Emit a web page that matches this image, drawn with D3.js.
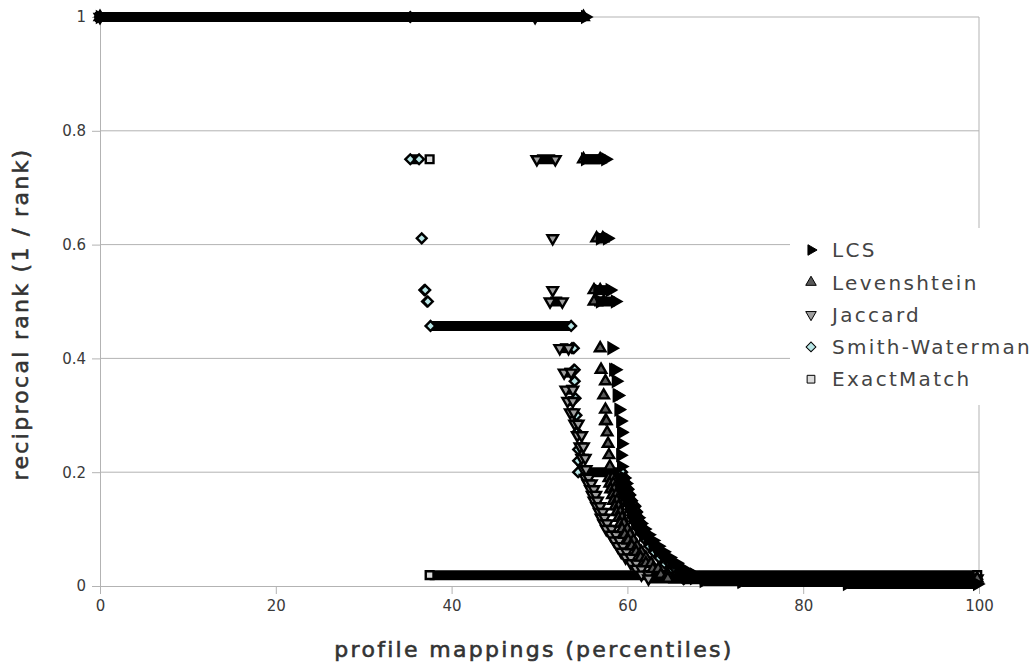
<!DOCTYPE html>
<html>
<head>
<meta charset="utf-8">
<script src="https://cdn.jsdelivr.net/npm/d3@7"></script>
<style>
  body { margin: 0; background: #fff; }
  svg { display: block; }
</style>
</head>
<body>
<svg id="chart" width="1036" height="664"></svg>
<script>
// each run is [percentile start, percentile end, reciprocal rank]
const lcsRuns = [
  [0, 55.2, 1], [55.2, 57.5, 0.75], [56.9, 57.7, 0.611], [56.6, 58.0, 0.52],
  [56.9, 58.6, 0.5], [58.2, 58.2, 0.418], [58.4, 58.6, 0.38], [58.7, 58.7, 0.36],
  [58.8, 58.9, 0.335], [59.0, 59.0, 0.31], [59.2, 59.2, 0.29], [59.3, 59.3, 0.27],
  [59.3, 59.3, 0.25], [59.2, 59.2, 0.23], [59.3, 59.3, 0.21],
  [59.2, 59.6, 0.19], [59.4, 59.8, 0.18], [59.5, 59.9, 0.17], [59.7, 60.1, 0.16],
  [59.9, 60.3, 0.15], [60.2, 60.6, 0.14], [60.4, 60.8, 0.13], [60.6, 61.2, 0.12],
  [60.9, 61.5, 0.11], [61.3, 61.9, 0.10], [61.8, 62.4, 0.09], [62.3, 62.9, 0.08],
  [62.9, 63.5, 0.07], [63.5, 64.1, 0.06], [64.2, 64.8, 0.05], [65.0, 65.6, 0.04],
  [65.8, 66.4, 0.03], [66.6, 67.6, 0.02], [67.6, 68.7, 0.014], [68.7, 73, 0.009],
  [73, 85, 0.007], [85, 99.8, 0.0035]
];
const levRuns = [
  [0, 55.0, 1], [55.0, 56.9, 0.75], [56.5, 57.2, 0.611], [56.2, 56.9, 0.52],
  [56.2, 57.3, 0.5], [56.9, 56.9, 0.418], [57.0, 57.0, 0.38], [57.5, 57.5, 0.36],
  [57.3, 57.3, 0.335], [57.5, 57.5, 0.31], [57.5, 57.6, 0.29], [57.7, 57.7, 0.27],
  [57.8, 57.8, 0.25], [57.9, 57.9, 0.23], [58.0, 58.0, 0.21],
  [57.9, 58.3, 0.19], [58.0, 58.4, 0.18], [58.1, 58.5, 0.17], [58.3, 58.7, 0.16],
  [58.4, 58.8, 0.15], [58.6, 59.0, 0.14], [58.8, 59.2, 0.13], [59.0, 59.4, 0.12],
  [59.2, 59.6, 0.11], [59.4, 60.0, 0.10], [59.7, 60.3, 0.09], [60.1, 60.7, 0.08],
  [60.5, 61.1, 0.07], [61.0, 61.6, 0.06], [61.5, 62.1, 0.05], [62.1, 62.7, 0.04],
  [62.9, 63.5, 0.03], [63.8, 64.6, 0.02], [64.6, 99.8, 0.013]
];
const jacRuns = [
  [0, 49.5, 1], [49.7, 51.8, 0.75], [51.5, 51.5, 0.611], [51.5, 51.5, 0.52],
  [51.2, 52.6, 0.5], [52.3, 53.3, 0.418], [52.8, 53.6, 0.375], [53.0, 53.8, 0.345],
  [53.2, 53.8, 0.325], [53.5, 53.9, 0.305], [54.0, 54.4, 0.285], [54.3, 54.8, 0.265],
  [54.6, 55.0, 0.245], [54.8, 55.2, 0.225], [55.0, 55.3, 0.205],
  [55.2, 55.6, 0.19], [55.5, 55.9, 0.18], [55.8, 56.2, 0.17], [56.0, 56.4, 0.16],
  [56.2, 56.6, 0.15], [56.5, 56.9, 0.14], [56.8, 57.2, 0.13], [57.0, 57.4, 0.12],
  [57.3, 57.7, 0.11], [57.6, 58.2, 0.10], [58.1, 58.7, 0.09], [58.5, 59.1, 0.08],
  [58.9, 59.5, 0.07], [59.3, 59.9, 0.06], [59.8, 60.4, 0.05], [60.4, 61.0, 0.04],
  [61.0, 61.6, 0.03], [61.6, 62.4, 0.02], [62.4, 99.8, 0.013]
];
const swRuns = [
  [0, 35.3, 1], [35.3, 36.3, 0.75], [36.6, 36.6, 0.611], [36.9, 37.0, 0.52],
  [37.2, 37.3, 0.5], [37.6, 53.6, 0.457], [53.7, 53.9, 0.418], [53.9, 54.0, 0.38],
  [54.0, 54.0, 0.36], [54.1, 54.1, 0.33], [54.2, 54.2, 0.3], [54.3, 54.3, 0.27],
  [54.4, 54.4, 0.24], [54.4, 54.4, 0.22], [54.4, 59.4, 0.2],
  [59.3, 59.7, 0.19], [59.5, 59.9, 0.18], [59.7, 60.1, 0.17], [59.9, 60.3, 0.16],
  [60.1, 60.5, 0.15], [60.3, 60.9, 0.14], [60.5, 61.1, 0.13], [60.7, 61.3, 0.12],
  [61.0, 61.6, 0.11], [61.3, 61.9, 0.10], [61.7, 62.3, 0.09], [62.1, 62.7, 0.08],
  [62.5, 63.1, 0.07], [63.0, 63.6, 0.06], [63.6, 64.2, 0.05], [64.2, 64.8, 0.04],
  [64.9, 65.5, 0.03], [65.6, 66.4, 0.02], [66.4, 99.8, 0.012]
];
const emRuns = [
  [0, 36.8, 1], [37.5, 37.5, 0.75], [37.5, 99.8, 0.019]
];

const seriesNames = ["LCS", "Levenshtein", "Jaccard", "Smith-Waterman", "ExactMatch"];
const xTickValues = [0, 20, 40, 60, 80, 100];
const yTickValues = [0, 0.2, 0.4, 0.6, 0.8, 1];

const svg = d3.select("#chart");

const x = d3.scaleLinear().domain([0, 100]).range([100, 979]);
const y = d3.scaleLinear().domain([0, 1]).range([586, 17]);

const gridColor = "#b3b3b3";

// marker look per series
const series = [
  { name: seriesNames[0], runs: lcsRuns, type: d3.symbolTriangle, rot: 90, size: 48, fill: "#000" },
  { name: seriesNames[1], runs: levRuns, type: d3.symbolTriangle, rot: 0, size: 48, fill: "#595959" },
  { name: seriesNames[2], runs: jacRuns, type: d3.symbolTriangle, rot: 180, size: 48, fill: "#a0a0a0" },
  { name: seriesNames[3], runs: swRuns, type: d3.symbolSquare, rot: 45, size: 48, fill: "#b8e6e6" },
  { name: seriesNames[4], runs: emRuns, type: d3.symbolSquare, rot: 0, size: 60, fill: "#dcdcdc" }
];

// grid
svg.append("g")
  .selectAll("line")
  .data(yTickValues.filter(d => d > 0))
  .join("line")
  .attr("x1", x(0))
  .attr("x2", x(100))
  .attr("y1", d => y(d))
  .attr("y2", d => y(d))
  .attr("stroke", gridColor);

svg.append("line")
  .attr("x1", x(100)).attr("x2", x(100))
  .attr("y1", y(1)).attr("y2", y(0))
  .attr("stroke", gridColor);

// axes
const yAxis = svg.append("g")
  .attr("transform", `translate(${x(0)},0)`)
  .call(d3.axisLeft(y).tickValues(yTickValues).tickFormat(d3.format("~g"))
    .tickSize(8).tickSizeOuter(0).tickPadding(6));

const xAxis = svg.append("g")
  .attr("transform", `translate(0,${y(0)})`)
  .call(d3.axisBottom(x).tickValues(xTickValues).tickSize(8).tickSizeOuter(0).tickPadding(6));

[xAxis, yAxis].forEach(a => {
  a.select(".domain").attr("stroke", gridColor);
  a.selectAll(".tick line").attr("stroke", gridColor);
  a.selectAll(".tick text")
    .attr("fill", "#3a3a3a")
    .style("font-family", "DejaVu Sans")
    .style("font-size", "15px");
});

// data marks, drawn last series first so LCS ends up on top
const plot = svg.append("g");

series.slice().reverse().forEach(s => {
  const g = plot.append("g").attr("class", "series");
  const sym = d3.symbol().type(s.type).size(s.size);

  // dense runs of markers look like solid black bars
  g.selectAll("line")
    .data(s.runs.filter(r => r[1] > r[0]))
    .join("line")
    .attr("x1", r => x(r[0]))
    .attr("x2", r => x(r[1]))
    .attr("y1", r => y(r[2]))
    .attr("y2", r => y(r[2]))
    .attr("stroke", "#000")
    .attr("stroke-width", 10);

  const pts = [];
  s.runs.forEach(r => {
    pts.push([r[0], r[2]]);
    if (r[1] > r[0]) pts.push([r[1], r[2]]);
  });

  g.selectAll("path")
    .data(pts)
    .join("path")
    .attr("d", sym)
    .attr("transform", d => `translate(${x(d[0])},${y(d[1])}) rotate(${s.rot})`)
    .attr("fill", s.fill)
    .attr("stroke", "#000")
    .attr("stroke-width", 2.4);
});

// legend
const legend = svg.append("g");
legend.append("rect")
  .attr("x", 790).attr("y", 228)
  .attr("width", 246).attr("height", 177)
  .attr("fill", "#fff");

const item = legend.selectAll("g.item")
  .data(series)
  .join("g")
  .attr("class", "item")
  .attr("transform", (d, i) => `translate(811,${250 + i * 32.3})`);

item.append("path")
  .attr("d", d => d3.symbol().type(d.type).size(d.size)())
  .attr("transform", d => `rotate(${d.rot})`)
  .attr("fill", d => d.fill)
  .attr("stroke", "#000")
  .attr("stroke-width", 1);

item.append("text")
  .attr("x", 21)
  .attr("dy", "0.36em")
  .attr("fill", "#444")
  .style("font-family", "DejaVu Sans")
  .style("font-size", "20px")
  .style("letter-spacing", "2.3px")
  .text(d => d.name);

// axis titles
const titleStyle = sel => sel
  .attr("text-anchor", "middle")
  .attr("fill", "#333")
  .attr("stroke", "#333")
  .attr("stroke-width", 0.6)
  .style("font-family", "DejaVu Sans")
  .style("font-size", "22px")
  .style("letter-spacing", "2.3px");

svg.append("text")
  .attr("transform", "translate(28,314) rotate(-90)")
  .call(titleStyle)
  .text("reciprocal rank (1 / rank)");

svg.append("text")
  .attr("x", 534)
  .attr("y", 657)
  .call(titleStyle)
  .text("profile mappings (percentiles)");
</script>
</body>
</html>
